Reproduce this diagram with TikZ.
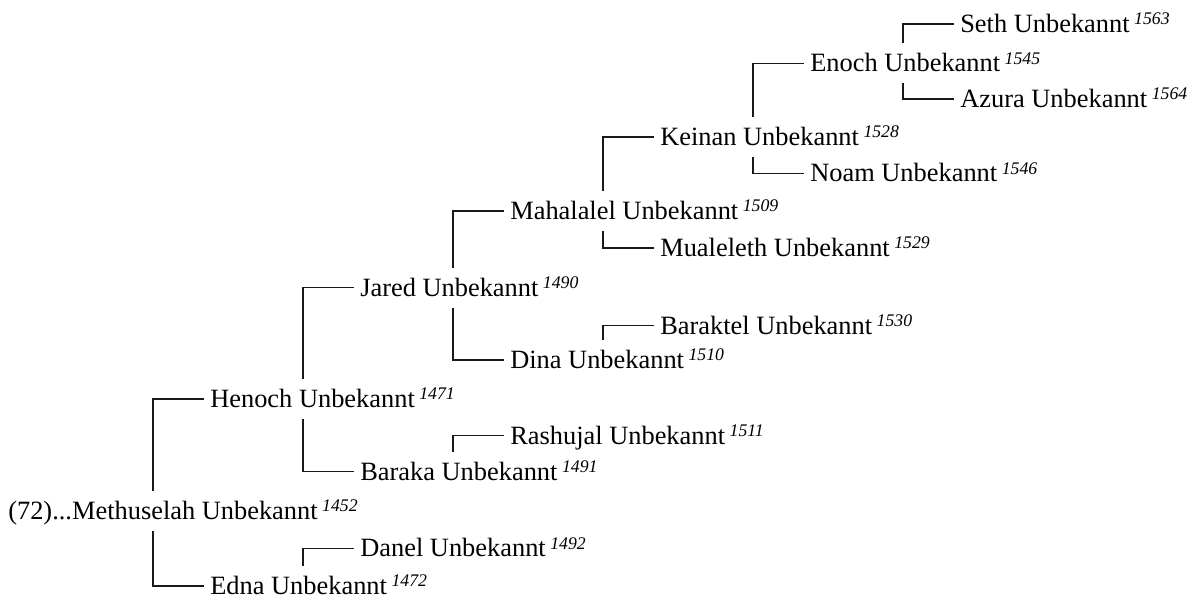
\documentclass[tikz,border=0pt]{standalone}
\usepackage{fontspec}
\setmainfont{Liberation Serif}
\newcommand\yr[1]{\hspace{3.4pt}\raisebox{5.8pt}{\fontsize{13.3pt}{15pt}\selectfont\itshape #1}}
\begin{document}
\begin{tikzpicture}[x=0.75pt,y=-0.75pt,
  person/.style={anchor=west, inner xsep=4.9pt, inner ysep=8.2pt, text height=12.9pt, text depth=0pt, font=\fontsize{19.8pt}{23pt}\selectfont},
  link/.style={draw=black!90, line width=0.95pt}]
\path[use as bounding box] (0,0) rectangle (1194,599);
\node[person] (meth) at (1.5,511) {(72)...Methuselah Unbekannt\yr{1452}};
\node[person] (henoch) at (203.5,399) {Henoch Unbekannt\yr{1471}};
\node[person] (edna) at (203.5,586) {Edna Unbekannt\yr{1472}};
\node[person] (jared) at (353.5,287.7) {Jared Unbekannt\yr{1490}};
\node[person] (baraka) at (353.5,471.7) {Baraka Unbekannt\yr{1491}};
\node[person] (danel) at (353.5,548.3) {Danel Unbekannt\yr{1492}};
\node[person] (mahal) at (503.5,211) {Mahalalel Unbekannt\yr{1509}};
\node[person] (dina) at (503.5,360) {Dina Unbekannt\yr{1510}};
\node[person] (rash) at (503.5,435.7) {Rashujal Unbekannt\yr{1511}};
\node[person] (keinan) at (653.5,137) {Keinan Unbekannt\yr{1528}};
\node[person] (mual) at (653.5,248) {Mualeleth Unbekannt\yr{1529}};
\node[person] (barak) at (653.5,325.7) {Baraktel Unbekannt\yr{1530}};
\node[person] (enoch) at (803.5,63.3) {Enoch Unbekannt\yr{1545}};
\node[person] (noam) at (803.5,173.3) {Noam Unbekannt\yr{1546}};
\node[person] (seth) at (953.5,24) {Seth Unbekannt\yr{1563}};
\node[person] (azura) at (953.5,99) {Azura Unbekannt\yr{1564}};
\foreach \p/\c in {meth/henoch, henoch/jared, jared/mahal, mahal/keinan, keinan/enoch, enoch/seth, edna/danel, baraka/rash, dina/barak}
  \draw[link] ([xshift=-37.9pt]\c.west |- \p.north) |- (\c.west);
\foreach \p/\c in {meth/edna, henoch/baraka, jared/dina, mahal/mual, keinan/noam, enoch/azura}
  \draw[link] ([xshift=-37.9pt]\c.west |- \p.south) |- (\c.west);
\end{tikzpicture}
\end{document}
